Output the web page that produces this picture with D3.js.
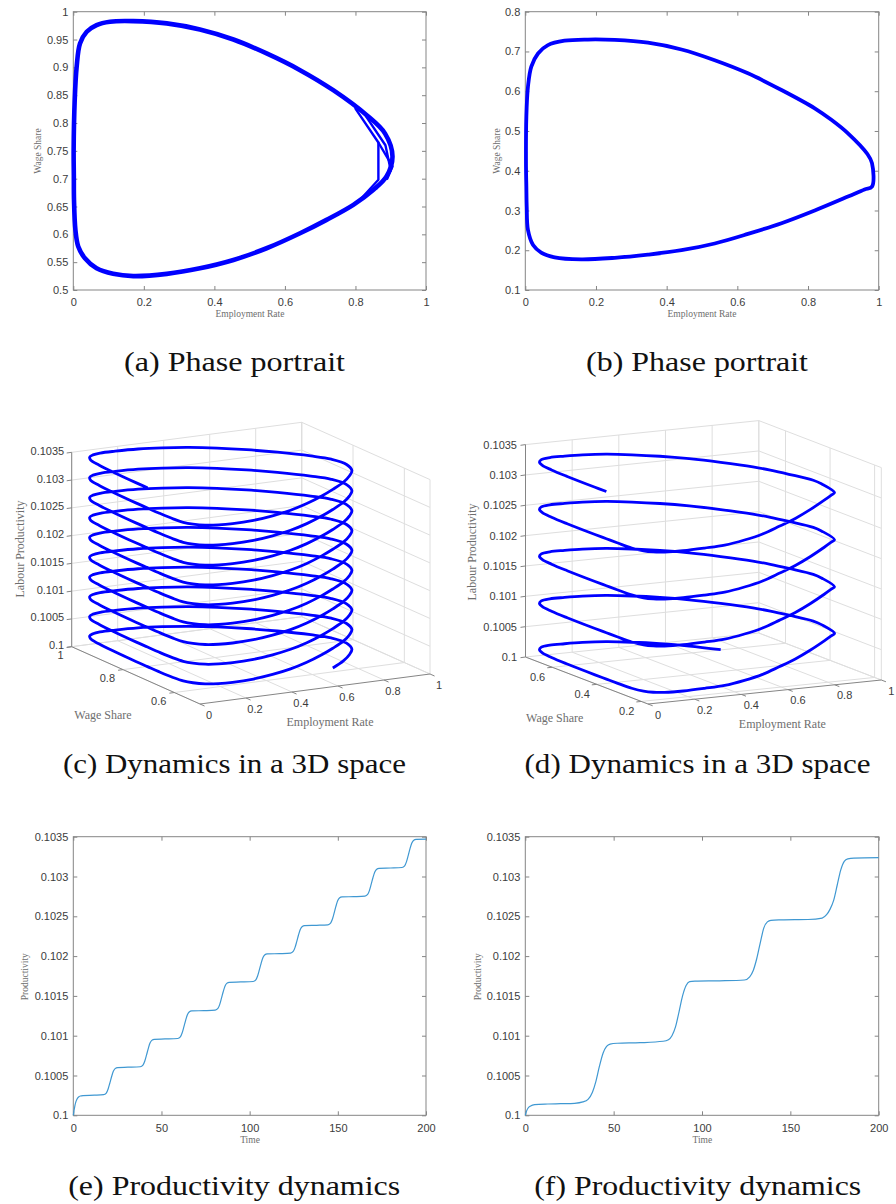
<!DOCTYPE html>
<html>
<head>
<meta charset="utf-8">
<script src="https://cdn.jsdelivr.net/npm/d3@7"></script>
<style>
  body { margin: 0; background: #fff; }
  svg { display: block; }
</style>
</head>
<body>
<svg id="fig" width="896" height="1204"></svg>
<script>
// ---------- limit cycle of the first parameter set (employment, wage share) ----------
// ordered counter-clockwise, beginning on the lower arc where productivity starts to climb
const cycleA_emp  = [0.265,0.359,0.454,0.548,0.643,0.718,0.794,0.851,0.888,0.905,0.884,0.832,0.737,0.643,0.548,0.454,0.359,0.265,0.170,0.104,0.066,0.038,0.019,0.0095,0.004,0.001,0.0015,0.002,0.006,0.014,0.033,0.066,0.113,0.170];
const cycleA_wage = [0.529,0.539,0.554,0.575,0.602,0.626,0.653,0.680,0.704,0.740,0.781,0.814,0.859,0.895,0.925,0.950,0.968,0.979,0.983,0.982,0.976,0.964,0.943,0.901,0.841,0.751,0.706,0.662,0.608,0.578,0.557,0.539,0.529,0.525];
// share of one productivity step completed at each point of the cycle
const cycleA_climb = [0,0.03,0.08,0.15,0.23,0.31,0.40,0.48,0.55,0.62,0.68,0.73,0.80,0.86,0.91,0.94,0.96,0.98,0.99,1,1,1,1,1,1,1,1,1,1,1,1,1,1,1];
const cycleA_start = 5, cycleA_end = 26;
// coarse solver steps of the transient turns near the right turning point
const cycleA_tipEmp  = [[0.80,0.865,0.865,0.81],[0.83,0.885,0.900,0.86],[0.865,0.905,0.89]];
const cycleA_tipWage = [[0.826,0.765,0.698,0.660],[0.812,0.760,0.715,0.683],[0.765,0.722,0.700]];

// ---------- limit cycle of the second parameter set ----------
const cycleB_emp  = [0.347,0.442,0.536,0.630,0.725,0.819,0.913,0.960,0.981,0.981,0.968,0.913,0.866,0.819,0.725,0.630,0.536,0.442,0.347,0.253,0.177,0.111,0.064,0.036,0.017,0.0075,0.003,0.002,0.003,0.004,0.0075,0.022,0.045,0.083,0.158,0.253];
const cycleB_wage = [0.189,0.200,0.217,0.241,0.268,0.300,0.335,0.353,0.360,0.419,0.442,0.494,0.528,0.557,0.603,0.645,0.678,0.705,0.722,0.729,0.730,0.727,0.716,0.695,0.662,0.611,0.536,0.410,0.360,0.310,0.251,0.213,0.194,0.182,0.177,0.181];
const cycleB_climb = [0,0.04,0.09,0.16,0.23,0.31,0.40,0.45,0.48,0.56,0.60,0.66,0.71,0.75,0.81,0.86,0.90,0.93,0.96,0.98,0.99,1,1,1,1,1,1,1,1,1,1,1,1,1,1,1];
const cycleB_start = 14, cycleB_end = 28;

// productivity plateaus reached after each cycle
const levelsA = [0.1,0.100247,0.1006,0.100955,0.101311,0.101671,0.102027,0.102383,0.102743,0.103103,0.103467];
const levelsB = [0.1,0.100142,0.100905,0.10168,0.102454,0.103233];

// ---------- productivity time series ----------
const prodA_time = [0,0.5,1,1.5,2,3,4,5.5,12,17.2,
  18.7,19.7,20.7,21.7,22.7,23.7,25.2,31,
  38.0,39.5,40.5,41.5,42.5,43.5,44.5,46.0,52,
  59.2,60.7,61.7,62.7,63.7,64.7,65.7,67.2,74,
  80.5,82,83,84,85,86,87,88.5,95,
  102,103.5,104.5,105.5,106.5,107.5,108.5,110,117,
  123.2,124.7,125.7,126.7,127.7,128.7,129.7,131.2,138,
  144.4,145.9,146.9,147.9,148.9,149.9,150.9,152.4,159,
  165.4,166.9,167.9,168.9,169.9,170.9,171.9,173.4,180,
  186.4,187.9,188.9,189.9,190.9,191.9,192.9,194.4,200];
const prodA_value = [0.1,0.10007,0.10013,0.100172,0.1002,0.10023,0.100243,0.100248,0.100253,0.10026,
  0.10028,0.100328,0.100403,0.100484,0.100552,0.100586,0.1006,0.100604,
  0.10061,0.100631,0.100679,0.100755,0.100838,0.100907,0.100941,0.100955,0.100959,
  0.100965,0.100986,0.101034,0.10111,0.101193,0.101263,0.101297,0.101311,0.101315,
  0.101321,0.101342,0.101391,0.101468,0.101552,0.101622,0.101657,0.101671,0.101675,
  0.101681,0.101702,0.10175,0.101826,0.101909,0.101979,0.102013,0.102027,0.102031,
  0.102037,0.102058,0.102106,0.102182,0.102265,0.102335,0.102369,0.102383,0.102387,
  0.102393,0.102414,0.102463,0.10254,0.102624,0.102694,0.102729,0.102743,0.102747,
  0.102753,0.102774,0.102823,0.1029,0.102984,0.103054,0.103089,0.103103,0.103107,
  0.103113,0.103134,0.103184,0.103262,0.103347,0.103417,0.103453,0.103467,0.103469];

const prodB_time = [0,0.6,1.5,3,5.3,12.8,20,27.9,32.6,
  35.5,38,40,42,44,46,48,52,65,78,
  81,83,85,87,89,91,93,96,110,124,
  127,129,131,133,135,137,139,145,160,168,
  170.5,172.5,174.5,176.5,178.5,180.5,182.5,186,200];
const prodB_value = [0.1,0.100046,0.100088,0.100117,0.100134,0.100142,0.100146,0.100151,0.100168,
  0.1002,0.10029,0.10043,0.10062,0.10078,0.100865,0.100895,0.100905,0.100912,0.10093,
  0.10095,0.101,0.10111,0.1013,0.1015,0.10163,0.10168,0.101685,0.10169,0.1017,
  0.10174,0.10182,0.10197,0.10217,0.102355,0.10243,0.10245,0.102455,0.10246,0.102478,
  0.10252,0.10259,0.1027,0.10289,0.10308,0.10319,0.103222,0.103232,0.103237];

// ---------- ticks and texts ----------
const empTicks   = [0,0.2,0.4,0.6,0.8,1];
const wageTicksA = [0.5,0.55,0.6,0.65,0.7,0.75,0.8,0.85,0.9,0.95,1];
const wageTicksB = [0.1,0.2,0.3,0.4,0.5,0.6,0.7,0.8];
const wage3DTicksA = [0.6,0.8,1];
const wage3DTicksB = [0.2,0.4,0.6];
const prodTicks  = [0.1,0.1005,0.101,0.1015,0.102,0.1025,0.103,0.1035];
const timeTicks  = [0,50,100,150,200];
const captions = ["(a) Phase portrait","(b) Phase portrait","(c) Dynamics in a 3D space","(d) Dynamics in a 3D space","(e) Productivity dynamics","(f) Productivity dynamics"];

// ---------- styling ----------
const svg = d3.select("#fig");
const BLUE = "#0000ff";
const LIGHTBLUE = "#3f98d2";
const AXIS = "#858585";
const GRID = "#dedede";
const TICKTXT = "#3c3c3c";
const LABEL = "#6e6e6e";
const SANS = "'Liberation Sans', Arial, Helvetica, sans-serif";
const SERIF = "'Liberation Serif', 'Times New Roman', serif";
const fmt = v => String(+v.toFixed(4));

function label(g, text, x, y, size, rotate) {
  return g.append("text")
    .attr("transform", `translate(${x},${y})` + (rotate ? " rotate(-90)" : ""))
    .attr("text-anchor", "middle").attr("dy", "0.35em")
    .attr("font-family", SERIF).attr("font-size", size).attr("fill", LABEL)
    .text(text);
}

// ---------- 2-D panel ----------
function panel2D(c) {
  const g = svg.append("g");
  const x = d3.scaleLinear().domain(c.xDomain).range([c.left, c.right]);
  const y = d3.scaleLinear().domain(c.yDomain).range([c.bottom, c.top]);
  const tk = 4;
  const style = sel => {
    sel.select(".domain").remove();
    sel.selectAll(".tick line").attr("stroke", AXIS);
    sel.selectAll(".tick text").attr("font-family", SANS).attr("font-size", 11).attr("fill", TICKTXT);
  };
  g.append("g").attr("transform", `translate(0,${c.bottom})`)
    .call(d3.axisBottom(x).tickValues(c.xTicks).tickFormat(fmt).tickSizeInner(-tk).tickSizeOuter(0).tickPadding(8.5)).call(style);
  g.append("g").attr("transform", `translate(0,${c.top})`)
    .call(d3.axisTop(x).tickValues(c.xTicks).tickFormat("").tickSizeInner(-tk).tickSizeOuter(0)).call(style);
  g.append("g").attr("transform", `translate(${c.left},0)`)
    .call(d3.axisLeft(y).tickValues(c.yTicks).tickFormat(fmt).tickSizeInner(-tk).tickSizeOuter(0).tickPadding(5)).call(style);
  g.append("g").attr("transform", `translate(${c.right},0)`)
    .call(d3.axisRight(y).tickValues(c.yTicks).tickFormat("").tickSizeInner(-tk).tickSizeOuter(0)).call(style);
  g.append("rect").attr("x", c.left).attr("y", c.top)
    .attr("width", c.right - c.left).attr("height", c.bottom - c.top)
    .attr("fill", "none").attr("stroke", AXIS).attr("stroke-width", 1);
  label(g, c.xLabel, c.xLabelPos[0], c.xLabelPos[1], c.labelSize, false);
  label(g, c.yLabel, c.yLabelPos[0], c.yLabelPos[1], c.labelSize, true);
  return { g, x, y };
}

// ---------- 3-D panel (orthographic view) ----------
function panel3D(c) {
  const g = svg.append("g");
  const sE = d3.scaleLinear().domain([0, 1]).range([0, 1]);
  const sW = d3.scaleLinear().domain(c.wDomain).range([0, 1]);
  const sZ = d3.scaleLinear().domain(c.zDomain).range([0, c.H]);
  const P = (e, w, z) => [
    c.origin[0] + sE(e) * c.vE[0] + sW(w) * c.vW[0],
    c.origin[1] + sE(e) * c.vE[1] + sW(w) * c.vW[1] - sZ(z)
  ];
  const [w0, w1] = c.wDomain, [z0, z1] = c.zDomain;
  const seg = (a, b, col, sw) => g.append("line")
    .attr("x1", a[0]).attr("y1", a[1]).attr("x2", b[0]).attr("y2", b[1])
    .attr("stroke", col).attr("stroke-width", sw);

  // back planes
  empTicks.forEach(e => { seg(P(e, w0, z0), P(e, w1, z0), GRID, 1); seg(P(e, w1, z0), P(e, w1, z1), GRID, 1); });
  c.wageTicks.forEach(w => { seg(P(0, w, z0), P(1, w, z0), GRID, 1); seg(P(1, w, z0), P(1, w, z1), GRID, 1); });
  prodTicks.forEach(z => { seg(P(0, w1, z), P(1, w1, z), GRID, 1); seg(P(1, w1, z), P(1, w0, z), GRID, 1); });
  seg(P(1, w0, z0), P(1, w0, z1), GRID, 1);
  seg(P(1, w1, z0), P(1, w1, z1), GRID, 1);

  // axis lines
  seg(P(0, w1, z0), P(0, w1, z1), AXIS, 1);
  seg(P(0, w0, z0), P(0, w1, z0), AXIS, 1);
  seg(P(0, w0, z0), P(1, w0, z0), AXIS, 1);

  const txt = (x, y, s, anchor) => g.append("text").attr("x", x).attr("y", y)
    .attr("text-anchor", anchor).attr("font-family", SANS).attr("font-size", 11)
    .attr("fill", TICKTXT).text(s);

  const nE = Math.hypot(c.vE[0], c.vE[1]), nW = Math.hypot(c.vW[0], c.vW[1]);
  prodTicks.forEach(z => {
    const p = P(0, w1, z);
    seg(p, [p[0] - 5, p[1] + 0.7], AXIS, 1);
    txt(p[0] + c.zLab[0], p[1] + c.zLab[1], fmt(z), "end");
  });
  c.wageTicks.forEach(w => {
    const p = P(0, w, z0);
    seg(p, [p[0] - 5 * c.vE[0] / nE, p[1] - 5 * c.vE[1] / nE], AXIS, 1);
    txt(p[0] + c.wLab[0], p[1] + c.wLab[1], fmt(w), "end");
  });
  empTicks.forEach(e => {
    const p = P(e, w0, z0);
    seg(p, [p[0] - 5 * c.vW[0] / nW, p[1] - 5 * c.vW[1] / nW], AXIS, 1);
    txt(p[0] + c.eLab[0], p[1] + c.eLab[1], fmt(e), "middle");
  });

  label(g, "Labour Productivity", c.zTitle[0], c.zTitle[1], 12, true);
  label(g, "Wage Share", c.wTitle[0], c.wTitle[1], 12, false);
  label(g, "Employment Rate", c.eTitle[0], c.eTitle[1], 12, false);
  return { g, P };
}

// lift a cycle into 3-D: each turn climbs from one plateau to the next
function helix(em, wa, cl, levels, start, end) {
  const pts = [], n = em.length, c0 = cl[start];
  for (let k = 0; k < levels.length - 1; k++) {
    const lo = levels[k], hi = levels[k + 1];
    const i0 = k === 0 ? start : 0;
    const i1 = k === levels.length - 2 ? end : n - 1;
    for (let i = i0; i <= i1; i++) {
      const f = k === 0 ? (cl[i] - c0) / (1 - c0) : cl[i];
      pts.push({ e: em[i], w: wa[i], z: lo + f * (hi - lo) });
    }
  }
  return pts;
}

// ===== (a) =====
{
  const p = panel2D({ left: 73.3, right: 426, top: 11.7, bottom: 290,
    xDomain: [0, 1], yDomain: [0.5, 1], xTicks: empTicks, yTicks: wageTicksA,
    xLabel: "Employment Rate", yLabel: "Wage Share", labelSize: 9.5,
    xLabelPos: [250, 314], yLabelPos: [38, 151] });
  const loop = cycleA_emp.map((e, i) => [p.x(e), p.y(cycleA_wage[i])]);
  p.g.append("path").attr("d", d3.line().curve(d3.curveCatmullRomClosed.alpha(0.5))(loop))
    .attr("fill", "none").attr("stroke", BLUE).attr("stroke-width", 4.6).attr("stroke-linejoin", "round");
  cycleA_tipEmp.forEach((arr, j) => {
    const tip = arr.map((e, i) => [p.x(e), p.y(cycleA_tipWage[j][i])]);
    p.g.append("path").attr("d", d3.line()(tip))
      .attr("fill", "none").attr("stroke", BLUE).attr("stroke-width", 2.4)
      .attr("stroke-linejoin", "round").attr("stroke-linecap", "round");
  });
}

// ===== (b) =====
{
  const p = panel2D({ left: 525.3, right: 878.7, top: 11.7, bottom: 290,
    xDomain: [0, 1], yDomain: [0.1, 0.8], xTicks: empTicks, yTicks: wageTicksB,
    xLabel: "Employment Rate", yLabel: "Wage Share", labelSize: 9.5,
    xLabelPos: [702, 314], yLabelPos: [496.3, 151] });
  const loop = cycleB_emp.map((e, i) => [p.x(e), p.y(cycleB_wage[i])]);
  p.g.append("path").attr("d", d3.line().curve(d3.curveCatmullRomClosed.alpha(0.5))(loop))
    .attr("fill", "none").attr("stroke", BLUE).attr("stroke-width", 3.8).attr("stroke-linejoin", "round");
}

// ===== (c) =====
{
  const p = panel3D({ origin: [200, 704], vE: [230, -30], vW: [-128.3, -57.3], H: 194.4,
    wDomain: [0.5, 1], zDomain: [0.1, 0.1035], wageTicks: wage3DTicksA,
    zLab: [-7.5, 2.5], wLab: [-8, 12.5], eLab: [9, 15],
    zTitle: [20, 549], wTitle: [103, 715], eTitle: [330, 722] });
  const pts = helix(cycleA_emp, cycleA_wage, cycleA_climb, levelsA, cycleA_start, cycleA_end)
    .map(d => p.P(d.e, d.w, d.z));
  p.g.append("path").attr("d", d3.line().curve(d3.curveCatmullRom.alpha(0.5))(pts))
    .attr("fill", "none").attr("stroke", BLUE).attr("stroke-width", 2.8).attr("stroke-linejoin", "round");
}

// ===== (d) =====
{
  const p = panel3D({ origin: [648, 704], vE: [233.3, -24], vW: [-122.5, -47], H: 212.4,
    wDomain: [0.17, 0.72], zDomain: [0.1, 0.1035], wageTicks: wage3DTicksB,
    zLab: [-8.5, 4], wLab: [-7, 13.5], eLab: [10, 14.5],
    zTitle: [472, 552], wTitle: [554.7, 718], eTitle: [782.3, 723.3] });
  const pts = helix(cycleB_emp, cycleB_wage, cycleB_climb, levelsB, cycleB_start, cycleB_end)
    .map(d => p.P(d.e, d.w, d.z));
  p.g.append("path").attr("d", d3.line().curve(d3.curveCatmullRom.alpha(0.5))(pts))
    .attr("fill", "none").attr("stroke", BLUE).attr("stroke-width", 2.8).attr("stroke-linejoin", "round");
}

// ===== (e) =====
{
  const p = panel2D({ left: 73.3, right: 426, top: 836.7, bottom: 1115.3,
    xDomain: [0, 200], yDomain: [0.1, 0.1035], xTicks: timeTicks, yTicks: prodTicks,
    xLabel: "Time", yLabel: "Productivity", labelSize: 9.5,
    xLabelPos: [250, 1140], yLabelPos: [25, 976.7] });
  const pts = prodA_time.map((t, i) => [p.x(t), p.y(prodA_value[i])]);
  p.g.append("path").attr("d", d3.line().curve(d3.curveMonotoneX)(pts))
    .attr("fill", "none").attr("stroke", LIGHTBLUE).attr("stroke-width", 1.2);
}

// ===== (f) =====
{
  const p = panel2D({ left: 525.3, right: 878.7, top: 836.7, bottom: 1115.3,
    xDomain: [0, 200], yDomain: [0.1, 0.1035], xTicks: timeTicks, yTicks: prodTicks,
    xLabel: "Time", yLabel: "Productivity", labelSize: 9.5,
    xLabelPos: [702.3, 1140], yLabelPos: [478, 976.7] });
  const pts = prodB_time.map((t, i) => [p.x(t), p.y(prodB_value[i])]);
  p.g.append("path").attr("d", d3.line().curve(d3.curveMonotoneX)(pts))
    .attr("fill", "none").attr("stroke", LIGHTBLUE).attr("stroke-width", 1.2);
}

// ===== sub-captions =====
const capPos = [[234.5, 370.7, 221], [697, 370.7, 222], [234.4, 773.3, 343], [697.5, 773.3, 346], [234.2, 1195, 332], [697.7, 1195, 327]];
svg.append("g").selectAll("text").data(captions).join("text")
  .attr("x", (d, i) => capPos[i][0]).attr("y", (d, i) => capPos[i][1])
  .attr("text-anchor", "middle").attr("font-family", SERIF).attr("font-size", 28)
  .attr("fill", "#111").attr("textLength", (d, i) => capPos[i][2]).attr("lengthAdjust", "spacingAndGlyphs")
  .text(d => d);
</script>
</body>
</html>
